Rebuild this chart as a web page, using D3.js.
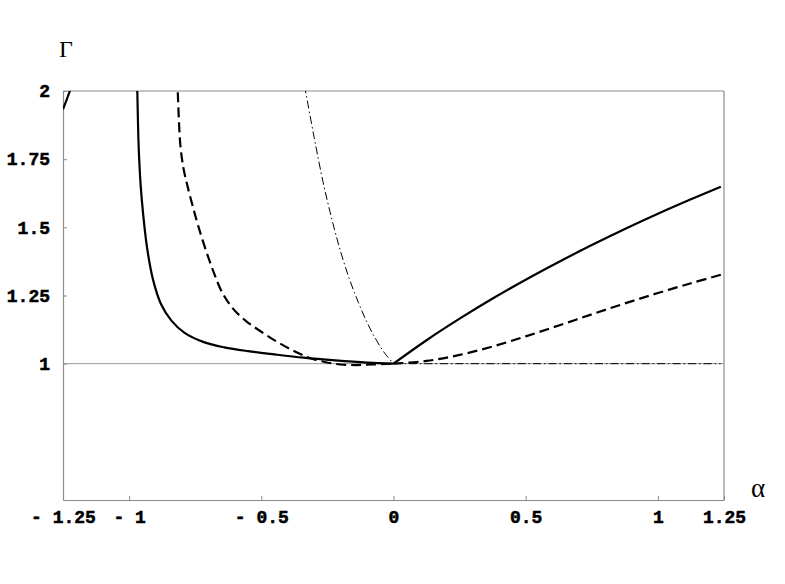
<!DOCTYPE html>
<html>
<head>
<meta charset="utf-8">
<script src="https://cdn.jsdelivr.net/npm/d3@7"></script>
<style>
  html, body { margin: 0; padding: 0; background: #fff; }
  svg { display: block; }
</style>
</head>
<body>
<svg id="chart" width="785" height="584"></svg>
<script>
// ---- data ----
const xTickValues = [-1.25, -1, -0.5, 0, 0.5, 1, 1.25];
const yTickValues = [1, 1.25, 1.5, 1.75, 2];

// solid branch entering from the far left (alpha < -1)
const solidFar = [[-1.25, 1.933], [-1.237, 1.966], [-1.224, 2.0], [-1.216, 2.02]];
// solid curve, left part
const solidLeft = [[-0.971, 2.06], [-0.969, 2.0], [-0.964, 1.80], [-0.956, 1.65], [-0.946, 1.54],
  [-0.932, 1.425], [-0.91, 1.31], [-0.88, 1.22], [-0.84, 1.158], [-0.79, 1.113],
  [-0.72, 1.08], [-0.64, 1.06], [-0.55, 1.046], [-0.45, 1.034], [-0.34, 1.022],
  [-0.22, 1.012], [-0.1, 1.004], [0, 1]];
// solid curve, right part
const solidRight = [[0, 1], [0.125, 1.086], [0.25, 1.165], [0.375, 1.239], [0.5, 1.308],
  [0.625, 1.373], [0.75, 1.435], [0.875, 1.494], [1.0, 1.55], [1.125, 1.603], [1.238, 1.649]];
// dashed curve, left part
const dashedLeft = [[-0.818, 2.05], [-0.816, 2.0], [-0.812, 1.9], [-0.806, 1.8], [-0.795, 1.72],
  [-0.78, 1.655], [-0.76, 1.58], [-0.74, 1.51], [-0.711, 1.42], [-0.68, 1.335],
  [-0.65, 1.265], [-0.61, 1.205], [-0.56, 1.158], [-0.5, 1.117], [-0.44, 1.08],
  [-0.38, 1.048], [-0.32, 1.022], [-0.26, 1.006], [-0.2, 0.997], [-0.14, 0.995],
  [-0.08, 0.997], [0, 1]];
// dashed curve, right part
const dashedRight = [[0, 1], [0.125, 1.01], [0.25, 1.032], [0.375, 1.063], [0.5, 1.1],
  [0.625, 1.14], [0.75, 1.181], [0.875, 1.221], [1.0, 1.259], [1.125, 1.295], [1.238, 1.326]];
// dash-dot curve, left part
const dashDotLeft = [[-0.337, 2.02], [-0.333, 2.0], [-0.3, 1.829], [-0.267, 1.669], [-0.233, 1.529],
  [-0.2, 1.411], [-0.167, 1.311], [-0.133, 1.225], [-0.1, 1.151], [-0.067, 1.09],
  [-0.033, 1.038], [0, 1]];
// dash-dot curve, right part (flat)
const dashDotRight = [[0, 1], [0.6, 1], [1.238, 1]];

// ---- layout ----
const svg = d3.select("#chart");
const x = d3.scaleLinear().domain([-1.25, 1.25]).range([63, 724]);
const y = d3.scaleLinear().domain([0.5, 2]).range([500, 91]);
const axisColor = "#8c8c8c";
const tickFont = "'Liberation Mono', 'Courier New', monospace";

svg.append("rect").attr("width", 785).attr("height", 584).attr("fill", "#fff");

svg.append("defs").append("clipPath").attr("id", "plotClip")
  .append("rect")
  .attr("x", x(-1.25)).attr("y", y(2))
  .attr("width", x(1.25) - x(-1.25)).attr("height", y(0.5) - y(2));

// reference line at Gamma = 1
svg.append("line")
  .attr("x1", x(-1.25)).attr("x2", x(1.25))
  .attr("y1", y(1)).attr("y2", y(1))
  .attr("stroke", "#9a9a9a").attr("stroke-width", 1);

// top and right frame
svg.append("line").attr("x1", x(-1.25)).attr("x2", x(1.25)).attr("y1", y(2)).attr("y2", y(2))
  .attr("stroke", axisColor).attr("stroke-width", 1.2);
svg.append("line").attr("x1", x(1.25)).attr("x2", x(1.25)).attr("y1", y(2)).attr("y2", y(0.5))
  .attr("stroke", axisColor).attr("stroke-width", 1.2);

const fmt = d => d < 0 ? "- " + String(Math.abs(d)) : String(d);

const xAxis = svg.append("g")
  .attr("transform", `translate(0,${y(0.5)})`)
  .call(d3.axisBottom(x).tickValues(xTickValues).tickFormat(fmt)
    .tickSizeInner(-4).tickSizeOuter(0).tickPadding(10));

const yAxis = svg.append("g")
  .attr("transform", `translate(${x(-1.25)},0)`)
  .call(d3.axisLeft(y).tickValues(yTickValues).tickFormat(fmt)
    .tickSizeInner(-4).tickSizeOuter(0).tickPadding(13));

[xAxis, yAxis].forEach(g => {
  g.select(".domain").attr("stroke", axisColor).attr("stroke-width", 1.2);
  g.selectAll(".tick line").attr("stroke", axisColor).attr("stroke-width", 1);
  g.selectAll(".tick text")
    .attr("fill", "#000")
    .attr("stroke", "#000")
    .attr("stroke-width", 0.5)
    .style("font-family", tickFont)
    .style("font-weight", "bold")
    .style("font-size", "18px");
});

// curves
const line = d3.line().x(d => x(d[0])).y(d => y(d[1])).curve(d3.curveCatmullRom.alpha(0.5));
const plot = svg.append("g").attr("clip-path", "url(#plotClip)");

const series = [
  { data: solidFar, w: 2.2, dash: null },
  { data: solidLeft, w: 2.2, dash: null },
  { data: solidRight, w: 2.2, dash: null },
  { data: dashedLeft, w: 2.2, dash: "10,5" },
  { data: dashedRight, w: 2.2, dash: "10,5" },
  { data: dashDotLeft, w: 1, dash: "8,3,1.5,3" },
  { data: dashDotRight, w: 1, dash: "8,3,1.5,3" }
];
series.forEach(s => {
  plot.append("path")
    .attr("d", line(s.data))
    .attr("fill", "none")
    .attr("stroke", "#000")
    .attr("stroke-width", s.w)
    .attr("stroke-dasharray", s.dash);
});

// axis labels
svg.append("text").attr("x", 59).attr("y", 57).text("Γ")
  .style("font-family", "'Liberation Serif', 'DejaVu Serif', serif")
  .style("font-size", "24px").attr("fill", "#000");
svg.append("text").attr("x", 751).attr("y", 497).text("α")
  .style("font-family", "'Liberation Serif', 'DejaVu Serif', serif")
  .style("font-size", "27px").attr("fill", "#000");
</script>
</body>
</html>
